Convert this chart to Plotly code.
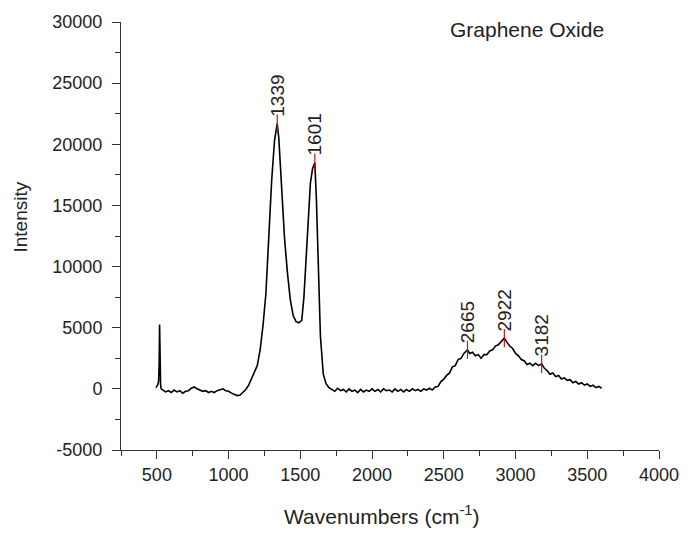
import plotly.graph_objects as go

# Raman spectrum of graphene oxide
wavenumber = [
    493, 505, 512, 516, 519, 522, 526, 530, 540, 560, 580, 600, 620, 640, 660, 680,
    700, 720, 740, 760, 780, 800, 820, 840, 860, 880, 900, 920, 940, 960, 980, 1000,
    1020, 1040, 1060, 1080, 1100, 1120, 1140, 1160, 1180, 1200, 1220, 1240, 1260, 1280,
    1300, 1320, 1339, 1350, 1370, 1390, 1410, 1430, 1450, 1470, 1490, 1510, 1525, 1540,
    1555, 1570, 1585, 1601, 1612, 1625, 1640, 1660, 1680, 1700,
    1720, 1740, 1760, 1780, 1800, 1820, 1840, 1860, 1880, 1900, 1920, 1940, 1960, 1980,
    2000, 2020, 2040, 2060, 2080, 2100, 2120, 2140, 2160, 2180, 2200, 2220, 2240, 2260,
    2280, 2300, 2320, 2340, 2360, 2380, 2400, 2420, 2440, 2460, 2480, 2500, 2520, 2540,
    2560, 2580, 2600, 2620, 2640, 2665, 2680, 2700, 2720, 2740, 2760, 2780, 2800, 2820,
    2840, 2860, 2880, 2900, 2922, 2940, 2960, 2980, 3000, 3020, 3040, 3060, 3080, 3100,
    3120, 3140, 3160, 3182, 3200, 3220, 3240, 3260, 3280, 3300, 3320, 3340, 3360, 3380,
    3400, 3420, 3440, 3460, 3480, 3500, 3520, 3540, 3560, 3580, 3600,
]
intensity = [
    100, 300, 600, 2000, 5270, 1500, 300, 0, -100, -250, -150, -300, -100, -250, -150, -350,
    -200, -150, 50, 150, 0, -100, -200, -150, -300, -200, -300, -150, -100, 0, -150, -200,
    -350, -450, -550, -500, -300, -50, 300, 800, 1300, 1900, 3200, 5200, 7800, 12500,
    17000, 20300, 21700, 20500, 16000, 12300, 9500, 7300, 6000, 5500, 5400, 5600, 7500, 10500,
    14000, 16800, 18000, 18500, 15500, 9500, 4300, 1200, 400, 100,
    -50, -200, 50, -150, -50, -250, 0, -200, -100, -300, -50, -250, -100, -200,
    0, -200, -50, -250, 0, -150, -100, -250, 0, -200, -50, -250, -50, -200,
    0, -150, -50, -200, 0, -100, 50, -100, 150, 200, 600, 800, 1100, 1300,
    1800, 1900, 2400, 2500, 2900, 3200, 2900, 3000, 2700, 2800, 2500, 2800, 2800, 3100,
    3200, 3500, 3600, 3900, 4150, 3800, 3500, 3300, 2900, 2700, 2400, 2300, 2000, 2100,
    1900, 2100, 1900, 2050, 1700, 1500, 1200, 1300, 1000, 1100, 800, 900, 700, 750,
    500, 600, 400, 500, 300, 400, 200, 300, 100, 200, 50,
]

peak_positions = [1339, 1601, 2665, 2922, 3182]
peak_heights = [21700, 18500, 3200, 4150, 2050]
peak_labels = ["1339", "1601", "2665", "2922", "3182"]

x_ticks = [500, 1000, 1500, 2000, 2500, 3000, 3500, 4000]
y_ticks = [-5000, 0, 5000, 10000, 15000, 20000, 25000, 30000]

FONT = "Liberation Sans, Arial, sans-serif"
TXT = "#222222"
AX = "#333333"

fig = go.Figure()
fig.add_trace(go.Scatter(
    x=wavenumber, y=intensity, mode="lines",
    line=dict(color="black", width=1.6), showlegend=False, hoverinfo="skip",
))
fig.add_trace(go.Scatter(
    x=peak_positions, y=peak_heights, mode="markers",
    marker=dict(symbol="line-ns", size=13, line=dict(color="#d01010", width=1.2)),
    showlegend=False, hoverinfo="skip",
))

annotations = []
for px, py, lab in zip(peak_positions, peak_heights, peak_labels):
    annotations.append(dict(
        x=px, y=py, xref="x", yref="y", text=lab, showarrow=False,
        textangle=-90, xanchor="center", yanchor="bottom", yshift=5,
        font=dict(family=FONT, size=19, color=TXT),
    ))
annotations.append(dict(
    x=2528, y=29400, xref="x", yref="y", text="Graphene Oxide", showarrow=False,
    xanchor="left", yanchor="middle", font=dict(family=FONT, size=21, color=TXT),
))
annotations.append(dict(
    x=-0.187, y=0.544, xref="paper", yref="paper", text="Intensity", showarrow=False,
    textangle=-90, xanchor="center", yanchor="middle",
    font=dict(family=FONT, size=19, color=TXT),
))
annotations.append(dict(
    x=0.485, y=-0.152, xref="paper", yref="paper", text="Wavenumbers (cm<sup>-1</sup>)",
    showarrow=False, xanchor="center", yanchor="middle",
    font=dict(family=FONT, size=21, color=TXT),
))

fig.update_layout(
    width=691, height=539,
    margin=dict(l=121, r=30, t=16, b=89),
    paper_bgcolor="white", plot_bgcolor="white",
    annotations=annotations,
    font=dict(family=FONT, color=TXT),
)
fig.update_xaxes(
    range=[250, 4000], tickvals=x_ticks, ticktext=[str(v) for v in x_ticks],
    showgrid=False, zeroline=False, showline=True, linecolor=AX, linewidth=1,
    ticks="outside", ticklen=8, tickcolor=AX, tickwidth=1,
    tickfont=dict(family=FONT, size=18, color=TXT),
    minor=dict(ticks="outside", ticklen=5, tickcolor=AX, dtick=250, tick0=0, showgrid=False),
)
fig.update_yaxes(
    range=[-5000, 30000], tickvals=y_ticks, ticktext=[str(v) for v in y_ticks],
    showgrid=False, zeroline=False, showline=True, linecolor=AX, linewidth=1,
    ticks="outside", ticklen=8, tickcolor=AX, tickwidth=1,
    tickfont=dict(family=FONT, size=18, color=TXT), ticklabelstandoff=6,
    minor=dict(ticks="outside", ticklen=5, tickcolor=AX, dtick=2500, tick0=0, showgrid=False),
)

fig.write_html("out.html")
